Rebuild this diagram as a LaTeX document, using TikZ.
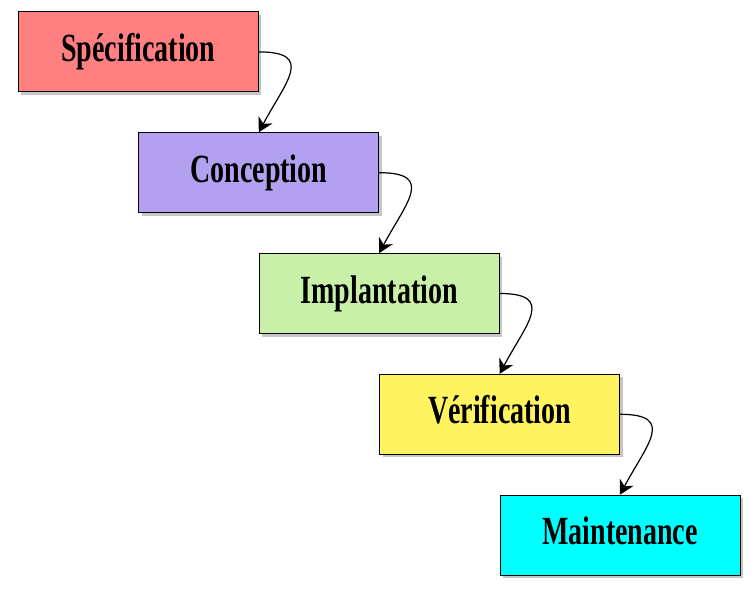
\documentclass[tikz,border=0pt]{standalone}
\usepackage{fontspec}
\usepackage{tikz}
\usetikzlibrary{
  arrows.meta,
  positioning,
  shadows
}
\newfontfamily\stagefont[FakeStretch=0.7]{Liberation Serif}
\definecolor{wfSpec}{HTML}{FF8080}
\definecolor{wfConc}{HTML}{B4A0F0}
\definecolor{wfImpl}{HTML}{C8F0A8}
\definecolor{wfVerif}{HTML}{FFF360}
\definecolor{wfMaint}{HTML}{00FFFF}
\tikzset{
  stage/.style={
    draw, thick, minimum width=240pt, minimum height=80pt,
    font=\stagefont\bfseries\fontsize{40}{40}\selectfont,
    text height=27pt, text depth=8pt, inner sep=0pt,
    drop shadow={shadow xshift=3pt, shadow yshift=-3pt, opacity=0.45}
  },
  next/.style={-{Stealth[length=5mm, width=5.5mm]}, line width=1.2pt, black,
    out=0, in=62, looseness=1.8}
}

\begin{document}
\begin{tikzpicture}[x=1pt, y=1pt]
  \useasboundingbox (0,0) rectangle (754,-596);
  \node[stage, fill=wfSpec, anchor=north west] (spec) at (18,-11.5) {Spécification};
  \node[stage, fill=wfConc, below right=40pt and 0pt of spec.south] (conc) {Conception};
  \node[stage, fill=wfImpl, below right=40pt and 0pt of conc.south] (impl) {Implantation};
  \node[stage, fill=wfVerif, below right=40pt and 0pt of impl.south] (verif) {Vérification};
  \node[stage, fill=wfMaint, below right=40pt and 0pt of verif.south] (maint) {Maintenance};
  \draw[next] (spec.east) to (conc.north);
  \draw[next] (conc.east) to (impl.north);
  \draw[next] (impl.east) to (verif.north);
  \draw[next] (verif.east) to (maint.north);
\end{tikzpicture}
\end{document}
